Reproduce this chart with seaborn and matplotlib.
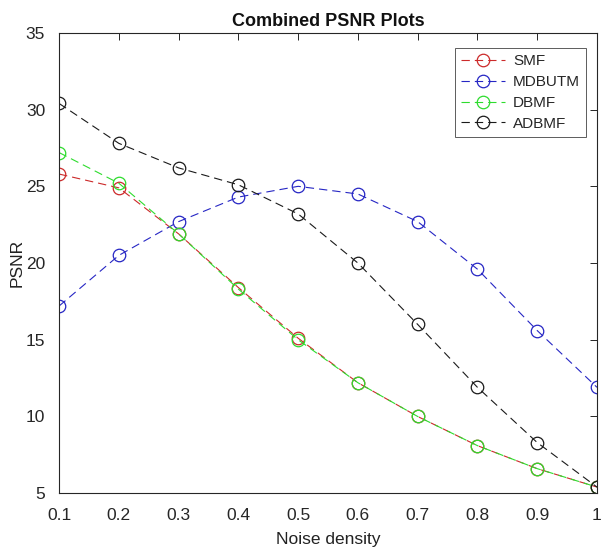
import matplotlib
matplotlib.use('Agg')
import matplotlib.pyplot as plt
import pandas as pd
import seaborn as sns

noise_density = [0.1, 0.2, 0.3, 0.4, 0.5, 0.6, 0.7, 0.8, 0.9, 1.0]
smf = [25.8, 24.9, 21.9, 18.4, 15.1, 12.2, 10.0, 8.1, 6.6, 5.4]
mdbutm = [17.2, 20.5, 22.7, 24.3, 25.0, 24.5, 22.7, 19.6, 15.6, 11.9]
dbmf = [27.2, 25.2, 21.9, 18.3, 15.0, 12.2, 10.0, 8.1, 6.6, 5.4]
adbmf = [30.4, 27.8, 26.2, 25.1, 23.2, 20.0, 16.0, 11.9, 8.3, 5.4]

x_ticks = [0.1, 0.2, 0.3, 0.4, 0.5, 0.6, 0.7, 0.8, 0.9, 1.0]
x_tick_labels = ['0.1', '0.2', '0.3', '0.4', '0.5', '0.6', '0.7', '0.8', '0.9', '1']
y_ticks = [5, 10, 15, 20, 25, 30, 35]

series = {
    'SMF': (smf, '#cc2a2a'),
    'MDBUTM': (mdbutm, '#2626c4'),
    'DBMF': (dbmf, '#2edc2e'),
    'ADBMF': (adbmf, '#1a1a1a'),
}

sns.set_style("white")
plt.rcParams['font.family'] = ['Liberation Sans', 'DejaVu Sans']
plt.rcParams['xtick.direction'] = 'in'
plt.rcParams['ytick.direction'] = 'in'

axis_color = '#262626'

fig = plt.figure(figsize=(6.03, 5.48), dpi=100)
ax = fig.add_axes([0.098, 0.100, 0.892, 0.840])

for name, (values, color) in series.items():
    df = pd.DataFrame({'x': noise_density, 'y': values})
    sns.lineplot(
        data=df, x='x', y='y', ax=ax,
        color=color, label=name,
        linestyle=(0, (7.5, 4.5)), linewidth=0.8,
        marker='o', markersize=9,
        markerfacecolor='none', markeredgecolor=color, markeredgewidth=0.9,
    )

ax.set_xlim(0.1, 1.0)
ax.set_ylim(5, 35)
ax.set_xticks(x_ticks)
ax.set_xticklabels(x_tick_labels)
ax.set_yticks(y_ticks)

ax.tick_params(axis='both', which='both', direction='in', length=5, width=0.7,
               colors=axis_color, labelsize=12.5, top=True, right=True,
               labeltop=False, labelright=False)
ax.tick_params(axis='x', pad=11)
ax.tick_params(axis='y', pad=10)
for spine in ax.spines.values():
    spine.set_visible(True)
    spine.set_color(axis_color)
    spine.set_linewidth(0.8)

ax.set_xlabel("Noise density", fontsize=12.5, color='#222222', labelpad=6)
ax.set_ylabel("PSNR", fontsize=12.5, color='#222222', labelpad=1)
ax.set_title("Combined PSNR Plots", fontsize=13, fontweight='bold', color='#111111', pad=5)

leg = ax.legend(loc='upper right', bbox_to_anchor=(0.9796, 0.967), borderaxespad=0,
                fontsize=11, frameon=True, fancybox=False,
                handlelength=2.9, labelspacing=0.45,
                handletextpad=0.5, borderpad=0.4)
leg.get_frame().set_edgecolor('#333333')
leg.get_frame().set_linewidth(0.7)

fig.savefig('out.png', dpi=100)
plt.close(fig)
